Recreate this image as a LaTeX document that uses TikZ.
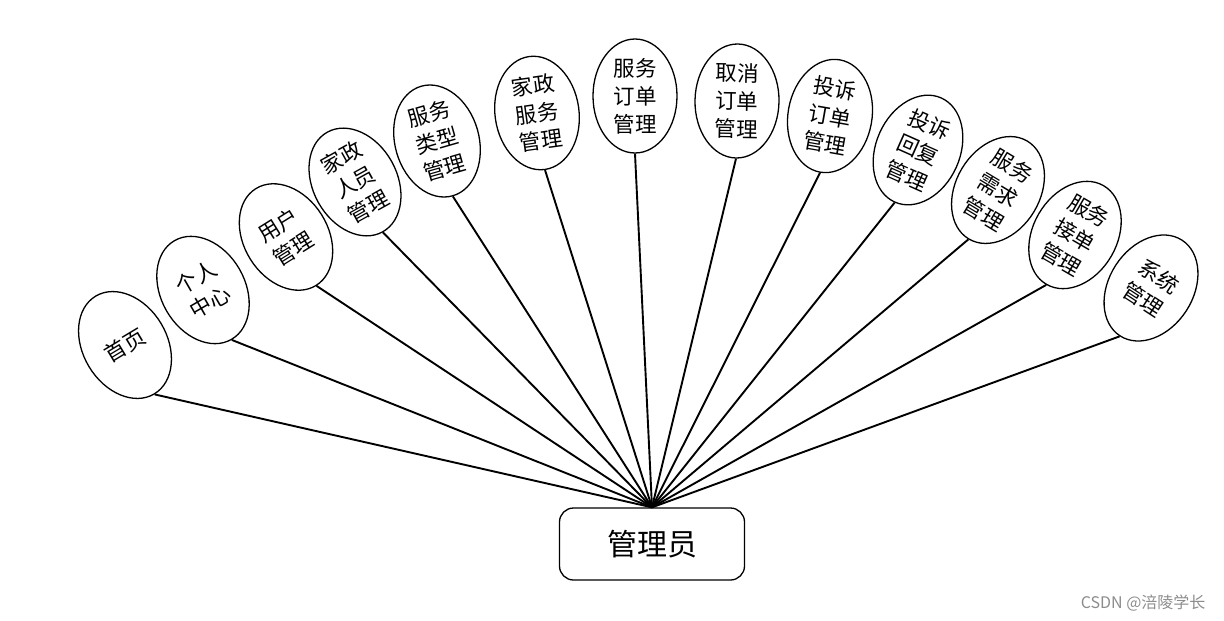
\documentclass[tikz,border=0pt]{standalone}
\usepackage{fontspec}
\newfontfamily\cjk{Noto Sans CJK SC}
\usetikzlibrary{shapes.geometric}
\begin{document}
\begin{tikzpicture}[x=1pt,y=-1pt,
  leaf/.style={ellipse, draw, fill=white, line width=1.3pt, minimum width=84pt, minimum height=114pt, inner sep=0pt, align=center, font=\cjk\fontsize{21.5}{28}\selectfont},
  link/.style={line width=1.9pt},
  rootbox/.style={draw, fill=white, rounded corners=14pt, line width=1.3pt, minimum width=185pt, minimum height=72pt, font=\cjk\fontsize{30}{34}\selectfont},
  mark text/.style={text=black!45, font=\cjk\fontsize{16}{18}\selectfont}]
\useasboundingbox (0,0) rectangle (1224,621);
\node[rootbox] (root) at (652,544) {管理员};
\node[leaf, rotate=31] (n1) at (125,345) {首页};
\node[leaf, rotate=30] (n2) at (203,290) {个人\\中心};
\node[leaf, rotate=32] (n3) at (286,237) {用户\\管理};
\node[leaf, rotate=29] (n4) at (355,182) {家政\\人员\\管理};
\node[leaf, rotate=16] (n5) at (437,141) {服务\\类型\\管理};
\node[leaf, rotate=8] (n6) at (537,113) {家政\\服务\\管理};
\node[leaf, rotate=0] (n7) at (635,96) {服务\\订单\\管理};
\node[leaf, rotate=-1] (n8) at (737,101) {取消\\订单\\管理};
\node[leaf, rotate=-10] (n9) at (830,116) {投诉\\订单\\管理};
\node[leaf, rotate=-24] (n10) at (918,150) {投诉\\回复\\管理};
\node[leaf, rotate=-31] (n11) at (998,190) {服务\\需求\\管理};
\node[leaf, rotate=-30] (n12) at (1075,235) {服务\\接单\\管理};
\node[leaf, rotate=-33] (n13) at (1151,288) {系统\\管理};
\foreach \i in {1,...,13} \draw[link] (n\i.south) -- (root.north);
\node[mark text, anchor=east] (wm) at (1209,603) {CSDN @涪陵学长};
\end{tikzpicture}
\end{document}
